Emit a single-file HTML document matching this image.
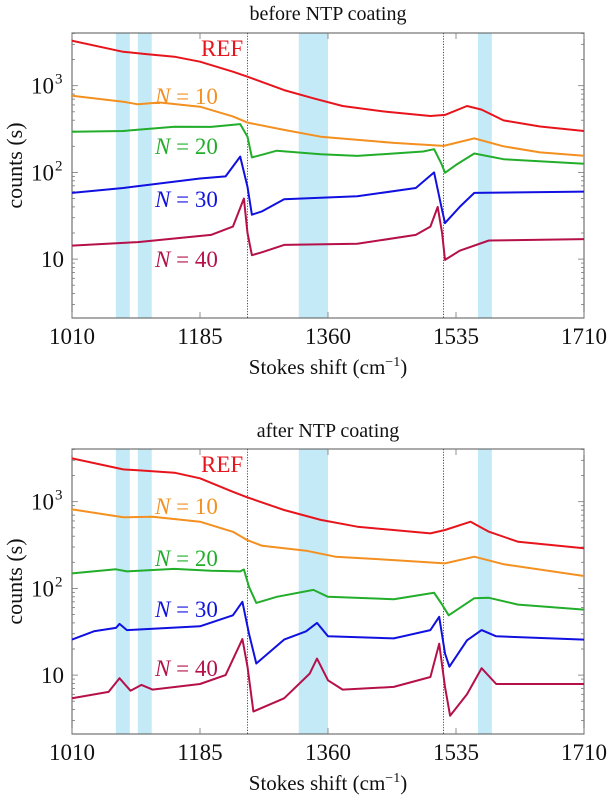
<!DOCTYPE html>
<html><head><meta charset="utf-8">
<style>
html,body{margin:0;padding:0;background:#fff;}
svg{display:block;font-family:"Liberation Serif",serif;}
</style></head>
<body>
<svg id="fig" width="609" height="796" viewBox="0 0 609 796"></svg>
<script>
// ---- data ----
const xTicks = [1010, 1185, 1360, 1535, 1710];
const bands = [[1070, 1089], [1100, 1119], [1320, 1360], [1565, 1584]];
const dottedLines = [1250, 1518];
const seriesNames = ["REF", "N = 10", "N = 20", "N = 30", "N = 40"];
const seriesColors = ["#e8141c", "#f39020", "#22ad2a", "#1010e0", "#b5104a"];

// before NTP coating: [wavenumber, counts]
const beforeREF = [[1010,3300],[1080,2460],[1110,2320],[1150,2160],[1185,1890],[1230,1450],[1250,1270],[1300,890],[1340,716],[1380,583],[1440,500],[1500,447],[1520,460],[1550,583],[1570,530],[1600,398],[1650,338],[1710,300]];
const beforeN10 = [[1010,767],[1080,653],[1100,611],[1130,640],[1185,572],[1230,443],[1250,375],[1300,309],[1350,258],[1450,219],[1518,202],[1560,247],[1600,200],[1650,170],[1710,156]];
const beforeN20 = [[1010,295],[1080,300],[1150,337],[1200,335],[1240,361],[1250,258],[1256,149],[1270,160],[1290,178],[1350,162],[1400,155],[1490,174],[1505,185],[1515,126],[1520,99],[1535,122],[1560,165],[1600,142],[1710,126]];
const beforeN30 = [[1010,58],[1080,66],[1185,85],[1220,90],[1240,152],[1250,68],[1256,32.5],[1270,35.6],[1300,49],[1400,53],[1480,66],[1505,100],[1515,40],[1520,26],[1540,40],[1560,58],[1710,60]];
const beforeN40 = [[1010,14.3],[1100,15.7],[1200,19],[1230,23.7],[1245,50],[1250,20],[1256,11.1],[1270,12],[1300,14.6],[1400,15],[1480,19],[1500,23.7],[1510,40],[1516,20],[1520,9.8],[1540,12.5],[1580,16.4],[1710,17]];

// after NTP coating
const afterREF = [[1010,3160],[1080,2360],[1100,2300],[1150,2160],[1185,1860],[1230,1300],[1250,1120],[1300,802],[1350,616],[1400,515],[1500,431],[1520,472],[1555,588],[1580,451],[1620,345],[1710,290]];
const afterN10 = [[1010,815],[1080,660],[1120,670],[1185,588],[1230,450],[1250,360],[1270,310],[1330,272],[1370,232],[1450,212],[1520,194],[1560,232],[1600,190],[1710,139]];
const afterN20 = [[1010,149],[1070,166],[1085,157],[1150,168],[1200,160],[1240,157],[1245,165],[1252,104],[1262,68],[1290,80],[1340,96],[1360,80],[1450,75],[1505,89],[1515,67],[1525,49],[1560,77],[1580,78],[1620,65],[1710,57]];
const afterN30 = [[1010,25.7],[1040,32],[1070,35],[1075,39],[1085,33],[1185,36.5],[1230,49],[1243,70],[1252,30],[1262,13.6],[1300,25.7],[1330,32],[1345,40],[1360,28],[1450,26.5],[1500,33],[1512,47],[1520,17.8],[1526,12.5],[1550,25.2],[1570,33],[1590,28],[1710,25.7]];
const afterN40 = [[1010,5.4],[1060,6.4],[1075,9.2],[1090,6.6],[1105,7.7],[1120,6.8],[1185,7.9],[1220,10],[1243,26],[1250,12.5],[1258,3.8],[1300,5.4],[1335,10.4],[1345,15.5],[1360,8.7],[1380,6.8],[1450,7.3],[1500,9.5],[1512,23],[1520,7.3],[1527,3.4],[1550,6],[1570,12],[1590,7.9],[1710,7.9]];

const NS = "http://www.w3.org/2000/svg";
const svg = document.getElementById("fig");
function mk(tag, attrs, parent) {
  const e = document.createElementNS(NS, tag);
  for (const k in attrs) e.setAttribute(k, attrs[k]);
  (parent || svg).appendChild(e);
  return e;
}

function panel(cfg) {
  const g = mk("g", {});
  
  
  const L = 72, R = 584, T = cfg.top, B = cfg.bottom, y1000 = cfg.y1000, dec = 86.7;
  const xs = v => L + (v - 1010) / 700 * (R - L);
  const ys = v => y1000 - (Math.log10(v) - 3) * dec;

  const clipId = cfg.name + "-clip";
  const cp = mk("clipPath", {id: clipId}, g);
  mk("rect", {x: L, y: T, width: R - L, height: B - T}, cp);

  bands.forEach((b, i) => {
    const r = mk("rect", {x: xs(b[0]), y: T, width: xs(b[1]) - xs(b[0]), height: B - T, fill: "#c4eaf8"}, g);
    
    
  });
  dottedLines.forEach((d, i) => {
    const l = mk("line", {x1: xs(d), x2: xs(d), y1: T, y2: B, stroke: "#222", "stroke-width": 0.8, "stroke-dasharray": "1.2,1.5"}, g);
    
    
  });

  const frame = mk("rect", {x: L, y: T, width: R - L, height: B - T, fill: "none", stroke: "#555", "stroke-width": 1}, g);
  
  
  for (let e = 0; e <= 3; e++) {
    for (let m = 1; m <= 9; m++) {
      const v = m * Math.pow(10, e);
      const y = ys(v);
      if (y < T || y > B) continue;
      const len = m === 1 ? 6 : 3;
      mk("line", {x1: L, x2: L + len, y1: y, y2: y, stroke: "#777", "stroke-width": 0.8}, g);
      mk("line", {x1: R, x2: R - len, y1: y, y2: y, stroke: "#777", "stroke-width": 0.8}, g);
    }
  }
  [[10, "10", ""], [100, "10", "2"], [1000, "10", "3"]].forEach(t => {
    const tx = mk("text", {x: t[2] ? 54 : 64, y: ys(t[0]) + 8, "font-size": 23, "text-anchor": "end", fill: "#111"}, g);
    tx.textContent = t[1];
    
    
    if (t[2]) {
      const sp = mk("text", {x: 55, y: ys(t[0]) - 2, "font-size": 15, fill: "#111"}, g);
      sp.textContent = t[2];
    }
  });
  xTicks.forEach(v => {
    mk("line", {x1: xs(v), x2: xs(v), y1: B, y2: B - 6, stroke: "#777", "stroke-width": 0.8}, g);
    mk("line", {x1: xs(v), x2: xs(v), y1: T, y2: T + 6, stroke: "#777", "stroke-width": 0.8}, g);
    const tx = mk("text", {x: xs(v), y: B + 26, "font-size": 23, "text-anchor": "middle", fill: "#111"}, g);
    tx.textContent = v;
    
    
  });

  cfg.series.forEach((s, i) => {
    const d = s.map((p, j) => (j ? "L" : "M") + xs(p[0]).toFixed(1) + "," + ys(p[1]).toFixed(1)).join("");
    const p = mk("path", {d: d, fill: "none", stroke: seriesColors[i], "stroke-width": 2, "stroke-linejoin": "round", "clip-path": "url(#" + clipId + ")"}, g);
    
    
  });

  cfg.labelY.forEach((y, i) => {
    const t = mk("text", {x: i === 0 ? 201 : 155, y: y, "font-size": 23, fill: seriesColors[i]}, g);
    if (i === 0) t.textContent = "REF";
    else t.innerHTML = '<tspan font-style="italic">N</tspan> = ' + (i * 10);
    
    
  });

  const title = mk("text", {x: 328, y: cfg.titleY, "font-size": 20, "text-anchor": "middle", fill: "#111"}, g);
  title.textContent = cfg.title;
  
  

  const xl = mk("text", {x: 328, y: B + 56, "font-size": 21, "text-anchor": "middle", fill: "#111"}, g);
  xl.innerHTML = 'Stokes shift (cm<tspan dy="-8" font-size="14">−1</tspan><tspan dy="8">)</tspan>';
  
  

  const yt = mk("text", {x: 0, y: 0, "font-size": 22, "text-anchor": "middle", fill: "#111", transform: "translate(22," + ((T + B) / 2 - 10) + ") rotate(-90)"}, g);
  yt.textContent = "counts (s)";
  
  
}

panel({name: "before-coating-panel", title: "before NTP coating", titleY: 20, top: 33, bottom: 318, y1000: 85.7,
  series: [beforeREF, beforeN10, beforeN20, beforeN30, beforeN40], labelY: [56, 104, 154, 207, 267]});
panel({name: "after-coating-panel", title: "after NTP coating", titleY: 437, top: 449, bottom: 734, y1000: 501.7,
  series: [afterREF, afterN10, afterN20, afterN30, afterN40], labelY: [472, 514, 566, 617, 676]});
</script>
</body></html>
